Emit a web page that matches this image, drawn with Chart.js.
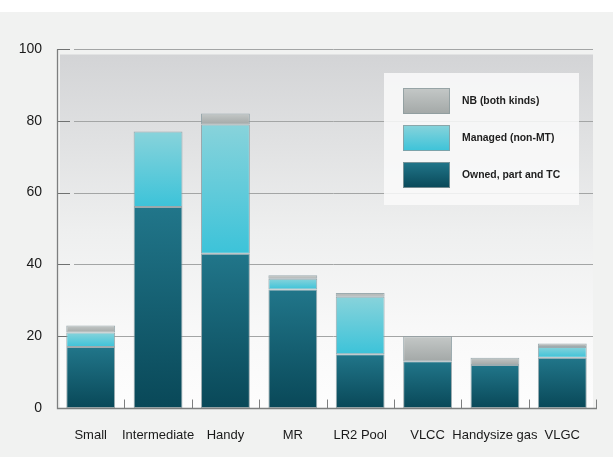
<!DOCTYPE html>
<html><head><meta charset="utf-8">
<script src="https://cdn.jsdelivr.net/npm/chart.js@4.4.1/dist/chart.umd.min.js"></script>
<style>html,body{margin:0;padding:0;background:#fff;}#wrap{width:613px;height:457px;position:relative;}</style>
</head><body><div id="wrap"><canvas id="c" width="613" height="457"></canvas></div>
<script>
const categories = ['Small','Intermediate','Handy','MR','LR2 Pool','VLCC','Handysize gas','VLGC'];
const ownedValues = [17,56,43,33,15,13,12,14];
const managedValues = [4,21,36,3,16,0,0,3];
const newbuildValues = [2,0,3,1,1,7,2,1];
const seriesLabels = ['Owned, part and TC','Managed (non-MT)','NB (both kinds)'];
const yTickValues = [0,20,40,60,80,100];

const seriesData = [ownedValues, managedValues, newbuildValues];
const gradStops = [['#21768a','#094858'], ['#88d3db','#3cc3d9'], ['#c4c8c7','#a3a8a7']];
const FONT = "'Liberation Sans', Arial, sans-serif";

function segFill(dsIndex){
  return function(ctx){
    const chart = ctx.chart; const ys = chart.scales && chart.scales.y;
    const stops = gradStops[dsIndex];
    if (!chart.chartArea || !ys || ctx.type !== 'data') return stops[1];
    const i = ctx.dataIndex;
    let base = 0; for (let k=0;k<dsIndex;k++) base += seriesData[k][i];
    const top = base + seriesData[dsIndex][i];
    const y0 = ys.getPixelForValue(top), y1 = ys.getPixelForValue(base);
    if (!isFinite(y0) || !isFinite(y1) || Math.abs(y1-y0) < 0.5) return stops[1];
    const g = chart.ctx.createLinearGradient(0,y0,0,y1);
    g.addColorStop(0,stops[0]); g.addColorStop(1,stops[1]);
    return g;
  };
}

const decor = {
  id:'decor',
  beforeDraw(chart){
    const c = chart.ctx, a = chart.chartArea;
    c.save();
    c.fillStyle='#ffffff'; c.fillRect(0,0,chart.width,chart.height);
    c.fillStyle='#f1f2f1'; c.fillRect(0,12,chart.width,chart.height-12);
    const bt = a.top + 5.5, bl = a.left + 3, br = a.right - 3;
    const g = c.createLinearGradient(0,bt,0,a.bottom);
    g.addColorStop(0,'#d3d4d6'); g.addColorStop(0.5,'#eeefef'); g.addColorStop(0.8,'#f9f9f9'); g.addColorStop(1,'#fdfdfd');
    c.fillStyle = g; c.fillRect(bl, bt, br-bl, a.bottom-bt);
    c.restore();
  },
  beforeDatasetsDraw(chart){
    const c = chart.ctx, a = chart.chartArea, ys = chart.scales.y;
    c.save();
    c.lineWidth = 1;
    yTickValues.forEach(v => {
      if (v === 0) return;
      const y = Math.round(ys.getPixelForValue(v)) + 0.5;
      c.strokeStyle = '#a3a5a5';
      c.beginPath(); c.moveTo(a.left+17, y); c.lineTo(a.right-3, y); c.stroke();
      c.strokeStyle = '#6f7171';
      c.beginPath(); c.moveTo(a.left, y); c.lineTo(a.left+13, y); c.stroke();
    });
    c.restore();
  },
  afterDatasetsDraw(chart){
    const c = chart.ctx, a = chart.chartArea, ys = chart.scales.y, xs = chart.scales.x;
    c.save();
    c.strokeStyle = '#7d7f7f'; c.lineWidth = 1.3;
    const ax = Math.round(a.left) + 0.5, ay = Math.round(a.bottom) + 0.5;
    c.beginPath(); c.moveTo(ax, Math.round(ys.getPixelForValue(100))+0.5); c.lineTo(ax, ay); c.lineTo(a.right+1, ay); c.stroke();
    c.lineWidth = 1;
    const n = categories.length;
    for (let i = 0; i < n; i++){
      const x = Math.round((xs.getPixelForValue(i) + (i < n-1 ? xs.getPixelForValue(i+1) : 2*xs.getPixelForValue(i) - xs.getPixelForValue(i-1))) / 2) + 0.5;
      c.beginPath(); c.moveTo(x, ay - 9); c.lineTo(x, ay); c.stroke();
    }
    // legend
    const lx = a.right - 212, ly = a.top + 24, lw = 195, lh = 132;
    c.fillStyle = 'rgba(250,250,250,0.85)';
    c.fillRect(lx, ly, lw, lh);
    const order = [2,1,0];
    order.forEach((ds, j) => {
      const sx = lx + 19, sy = ly + 15 + j*37, sw = 47, sh = 26;
      const g = c.createLinearGradient(0, sy, 0, sy+sh);
      g.addColorStop(0, gradStops[ds][0]); g.addColorStop(1, gradStops[ds][1]);
      c.fillStyle = g; c.fillRect(sx, sy, sw, sh);
      c.strokeStyle = 'rgba(140,155,158,0.8)'; c.lineWidth = 1;
      c.strokeRect(sx+0.5, sy+0.5, sw-1, sh-1);
      c.fillStyle = '#1e1e1e';
      c.font = "bold 10.4px " + FONT;
      c.textBaseline = 'middle'; c.textAlign = 'left';
      c.fillText(chart.data.datasets[ds].label, lx + 78, sy + sh/2 + 0.5);
    });
    c.restore();
  }
};

const datasets = seriesData.map((vals, k) => ({
  label: seriesLabels[k],
  data: vals,
  backgroundColor: segFill(k),
  borderColor: 'rgba(140,158,162,0.85)',
  borderWidth: 1,
  borderSkipped: false,
  categoryPercentage: 1,
  barPercentage: 0.725
}));

new Chart(document.getElementById('c'), {
  type: 'bar',
  data: { labels: categories, datasets },
  plugins: [decor],
  options: {
    responsive: false,
    animation: false,
    events: [],
    layout: { padding: { top: 49, right: 17, left: 0, bottom: 0 } },
    plugins: { legend: { display: false }, tooltip: { enabled: false } },
    scales: {
      x: {
        stacked: true,
        grid: { display: false, drawTicks: false },
        border: { display: false },
        ticks: { color: '#1a1a1a', font: { family: FONT, size: 13 }, padding: 20, maxRotation: 0, autoSkip: false },
        afterFit: s => { s.height = 49; }
      },
      y: {
        stacked: true,
        min: 0, max: 100,
        grid: { display: false, drawTicks: false },
        border: { display: false },
        afterBuildTicks: s => { s.ticks = yTickValues.map(v => ({ value: v })); },
        ticks: { color: '#1a1a1a', font: { family: FONT, size: 14 }, padding: 15 },
        afterFit: s => { s.width = 57; }
      }
    }
  }
});
</script></body></html>
